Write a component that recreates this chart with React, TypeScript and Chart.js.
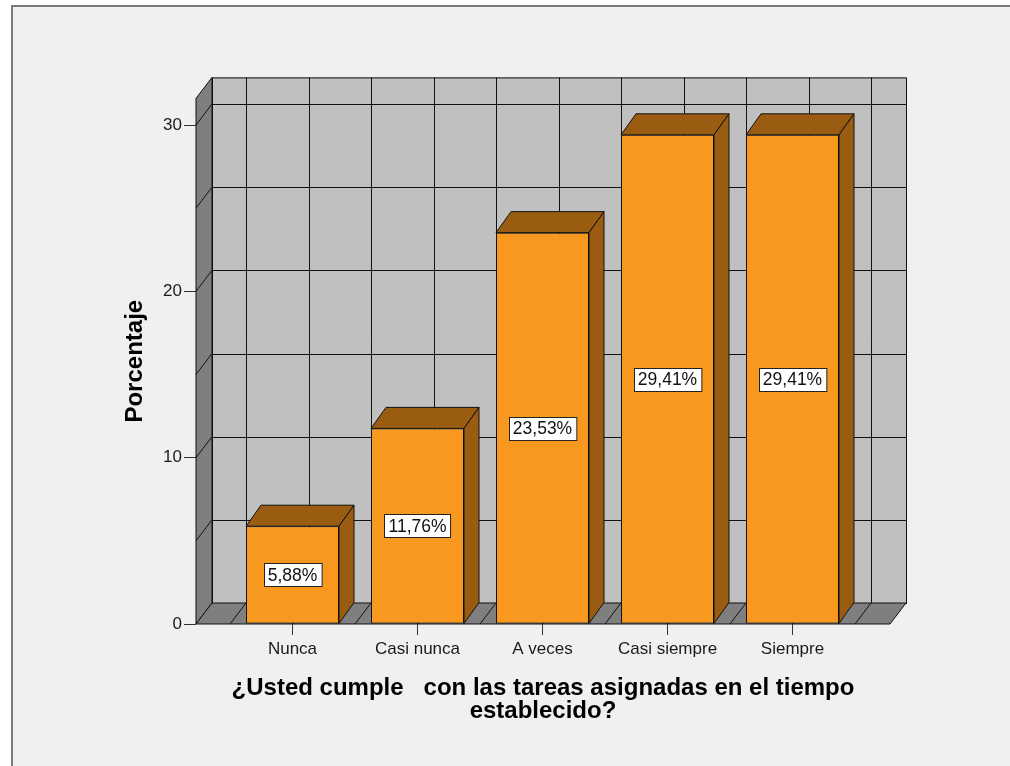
import React, { useEffect, useRef } from "react";
import { Chart, registerables } from "chart.js";

Chart.register(...registerables);

const categories = ["Nunca", "Casi nunca", "A veces", "Casi siempre", "Siempre"];
const percentages = [5.88, 11.76, 23.53, 29.41, 29.41];
const yTickStep = 10;
const yGridStep = 5;
const yMax = 31.6;
const yTitle = "Porcentaje";
const xTitle = ["¿Usted cumple   con las tareas asignadas en el tiempo", "establecido?"];

const FONT = "'Liberation Sans', Arial, sans-serif";
const WALL_DX = 16;
const WALL_DY = -21;
const BAR_DX = 15;
const BAR_DY = -21;
const FRONT = "#f8981e";
const SIDE = "#995c11";
const BACK_WALL = "#c0c0c0";
const DARK_WALL = "#7f7f7f";
const LINE = "#111111";

const fmt = (v: number) => v.toFixed(2).replace(".", ",") + "%";

const spss3d = {
  id: "spss3d",
  beforeDraw(chart: any) {
    const ctx = chart.ctx;
    ctx.save();
    ctx.fillStyle = "#ffffff";
    ctx.fillRect(0, 0, chart.width, chart.height);
    ctx.fillStyle = "#f0f0f0";
    ctx.fillRect(12, 6, chart.width, chart.height);
    ctx.fillStyle = "#7a7a7a";
    ctx.fillRect(11, 5, chart.width, 2);
    ctx.fillRect(11, 5, 2, chart.height);
    ctx.restore();
  },
  beforeDatasetsDraw(chart: any) {
    const ctx = chart.ctx;
    const { left, right, top, bottom } = chart.chartArea;
    const xS = chart.scales.x;
    const yS = chart.scales.y;
    ctx.save();
    ctx.lineWidth = 1;
    ctx.strokeStyle = LINE;
    ctx.lineJoin = "miter";

    // back wall
    ctx.fillStyle = BACK_WALL;
    ctx.fillRect(left + WALL_DX, top + WALL_DY, right - left, bottom - top);
    const vx: number[] = [];
    for (let i = 0; i < categories.length; i++) {
      vx.push(i - 0.5, i);
    }
    vx.push(categories.length - 0.5);
    ctx.beginPath();
    for (let v = yGridStep; v < yS.max; v += yGridStep) {
      const py = Math.round(yS.getPixelForValue(v) + WALL_DY) + 0.5;
      ctx.moveTo(left + WALL_DX, py);
      ctx.lineTo(right + WALL_DX, py);
    }
    for (const v of vx) {
      const px = Math.round(xS.getPixelForValue(v) + WALL_DX) + 0.5;
      ctx.moveTo(px, top + WALL_DY);
      ctx.lineTo(px, bottom + WALL_DY);
    }
    ctx.stroke();
    ctx.strokeRect(left + WALL_DX + 0.5, top + WALL_DY + 0.5, right - left, bottom - top);

    // left wall
    ctx.fillStyle = DARK_WALL;
    ctx.beginPath();
    ctx.moveTo(left, top);
    ctx.lineTo(left + WALL_DX, top + WALL_DY);
    ctx.lineTo(left + WALL_DX, bottom + WALL_DY);
    ctx.lineTo(left, bottom);
    ctx.closePath();
    ctx.fill();
    ctx.stroke();
    ctx.beginPath();
    for (let v = yGridStep; v < yS.max; v += yGridStep) {
      const py = yS.getPixelForValue(v);
      ctx.moveTo(left, py);
      ctx.lineTo(left + WALL_DX, py + WALL_DY);
    }
    ctx.stroke();

    // floor
    ctx.beginPath();
    ctx.moveTo(left, bottom);
    ctx.lineTo(right, bottom);
    ctx.lineTo(right + WALL_DX, bottom + WALL_DY);
    ctx.lineTo(left + WALL_DX, bottom + WALL_DY);
    ctx.closePath();
    ctx.fill();
    ctx.stroke();
    ctx.beginPath();
    for (const v of vx) {
      const px = xS.getPixelForValue(v);
      ctx.moveTo(px, bottom);
      ctx.lineTo(px + WALL_DX, bottom + WALL_DY);
    }
    ctx.stroke();
    ctx.restore();
  },
  afterDatasetsDraw(chart: any) {
    const ctx = chart.ctx;
    const meta = chart.getDatasetMeta(0);
    ctx.save();
    ctx.lineWidth = 1;
    ctx.strokeStyle = LINE;
    meta.data.forEach((bar: any) => {
      const { x, y, base, width } = bar.getProps(["x", "y", "base", "width"], true);
      const l = x - width / 2;
      const r = x + width / 2;
      ctx.fillStyle = SIDE;
      ctx.beginPath();
      ctx.moveTo(l, y);
      ctx.lineTo(l + BAR_DX, y + BAR_DY);
      ctx.lineTo(r + BAR_DX, y + BAR_DY);
      ctx.lineTo(r, y);
      ctx.closePath();
      ctx.fill();
      ctx.stroke();
      ctx.beginPath();
      ctx.moveTo(r, y);
      ctx.lineTo(r + BAR_DX, y + BAR_DY);
      ctx.lineTo(r + BAR_DX, base + BAR_DY);
      ctx.lineTo(r, base);
      ctx.closePath();
      ctx.fill();
      ctx.stroke();
    });
    ctx.font = `17.5px ${FONT}`;
    ctx.textAlign = "center";
    ctx.textBaseline = "middle";
    meta.data.forEach((bar: any, i: number) => {
      const { x, y, base } = bar.getProps(["x", "y", "base"], true);
      const text = fmt(percentages[i]);
      const w = ctx.measureText(text).width + 8;
      const h = 23;
      const cy = (y + base) / 2;
      const bx = Math.round(x - w / 2) + 0.5;
      const by = Math.round(cy - h / 2) + 0.5;
      ctx.fillStyle = "#ffffff";
      ctx.fillRect(bx, by, w, h);
      ctx.strokeStyle = "#222222";
      ctx.strokeRect(bx, by, w, h);
      ctx.fillStyle = "#111111";
      ctx.fillText(text, x, cy + 1);
    });
    ctx.restore();
  },
};

export default function App() {
  const ref = useRef<HTMLCanvasElement | null>(null);
  useEffect(() => {
    if (!ref.current) return;
    Chart.defaults.font.family = FONT;
    const chart = new Chart(ref.current, {
      type: "bar",
      data: {
        datasets: [
          {
            data: percentages.map((v, i) => ({ x: i, y: v })),
            backgroundColor: FRONT,
            borderColor: LINE,
            borderWidth: 1,
            borderSkipped: false,
            categoryPercentage: 1,
            barPercentage: 0.744,
          },
        ],
      },
      options: {
        animation: false,
        responsive: false,
        devicePixelRatio: 1,
        layout: { padding: { top: 98.4, right: 120, bottom: 0, left: 0 } },
        plugins: { legend: { display: false }, tooltip: { enabled: false } },
        scales: {
          x: {
            type: "linear",
            min: -0.772,
            max: categories.length - 1 + 0.78,
            offset: false,
            grid: { offset: false, drawOnChartArea: false, drawTicks: true, tickLength: 11, color: "#333333" },
            border: { display: false },
            ticks: {
              stepSize: 1,
              includeBounds: false,
              autoSkip: false,
              maxRotation: 0,
              padding: 4,
              color: "#1a1a1a",
              font: { size: 17, family: FONT },
              callback: (v: any) => categories[Math.round(Number(v))] ?? "",
            },
            title: {
              display: true,
              text: xTitle,
              color: "#000000",
              font: { size: 24, weight: "bold", family: FONT, lineHeight: 0.96 },
              padding: { top: 0, bottom: 43.5 },
            },
            afterFit: (s: any) => {
              s.height = 142;
            },
          },
          y: {
            type: "linear",
            min: 0,
            max: yMax,
            grid: { drawOnChartArea: false, drawTicks: true, tickLength: 12, color: "#333333" },
            border: { display: false },
            ticks: {
              stepSize: yTickStep,
              includeBounds: false,
              padding: 2,
              color: "#1a1a1a",
              font: { size: 17, family: FONT },
            },
            title: {
              display: true,
              text: yTitle,
              color: "#000000",
              font: { size: 24, weight: "bold", family: FONT },
              padding: { top: 120.6, bottom: 0 },
            },
            afterFit: (s: any) => {
              s.width = 196;
            },
          },
        },
      },
      plugins: [spss3d],
    });
    return () => chart.destroy();
  }, []);
  return (
    <div style={{ position: "absolute", left: 0, top: 0, width: 1010, height: 766 }}>
      <canvas ref={ref} width={1010} height={766} style={{ display: "block" }} />
    </div>
  );
}
